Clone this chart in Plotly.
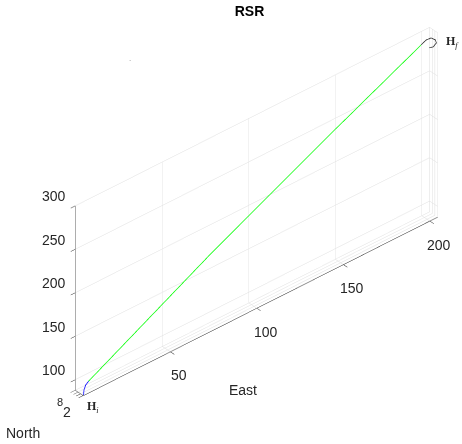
import plotly.graph_objects as go

# ---- data ----
# blue start arc (from H_i)
start_east = [0.0, 0.2, 1.2, 2.9]
start_north = [2.1, 2.1, 2.1, 2.1]
start_alt = [88.0, 93.7, 98.3, 101.0]

# green straight segment
mid_east = [2.9, 72.4, 142.5, 195.1]
mid_north = [2.1, 2.1, 2.1, 2.1]
mid_alt = [101.0, 175.6, 245.0, 295.2]

# black end arc (to H_f)
end_east = [195.1, 198.0, 200.9, 203.3, 203.9, 202.1, 199.8]
end_north = [2.1, 2.1, 2.1, 2.1, 2.1, 2.1, 2.1]
end_alt = [295.2, 297.9, 297.4, 292.7, 288.7, 285.9, 287.1]

east_range = [-0.3, 204.5]
north_range = [1.9, 8.0]
alt_range = [87.7, 300]
east_ticks = [50, 100, 150, 200]
north_ticks = [2, 4, 6, 8]
north_labels = [8, 2]
alt_ticks = [100, 150, 200, 250, 300]

fig = go.Figure()
fig.add_trace(go.Scatter3d(x=start_east, y=start_north, z=start_alt, mode="lines",
                           line=dict(color="#0000ff", width=1.5), showlegend=False, hoverinfo="skip"))
fig.add_trace(go.Scatter3d(x=mid_east, y=mid_north, z=mid_alt, mode="lines",
                           line=dict(color="#00ff00", width=1.5), showlegend=False, hoverinfo="skip"))
fig.add_trace(go.Scatter3d(x=end_east, y=end_north, z=end_alt, mode="lines",
                           line=dict(color="#262626", width=1.5), showlegend=False, hoverinfo="skip"))

axis_common = dict(
    showbackground=False,
    gridcolor="#dedede",
    gridwidth=1,
    showline=True,
    linecolor="#262626",
    linewidth=1,
    zeroline=False,
    showspikes=False,
    ticks="outside",
    ticklen=6,
    tickcolor="#262626",
    showticklabels=False,
    title=dict(text=""),
)

tick_font = dict(family="Liberation Sans, Arial", size=14, color="#262626")

scene_ann = []
# altitude tick labels (left of the vertical axis at East=min, North=max)
for v in alt_ticks:
    scene_ann.append(dict(x=east_range[0], y=north_range[1], z=v, text=str(v), showarrow=False,
                          xanchor="right", yanchor="middle", xshift=-7, yshift=10, font=tick_font))
# east tick labels (below the front-bottom edge)
for v in east_ticks:
    scene_ann.append(dict(x=v, y=north_range[0], z=alt_range[0], text=str(v), showarrow=False,
                          xanchor="center", yanchor="middle", xshift=9, yshift=-23, font=tick_font))
# north tick labels (overlapping at the short depth axis)
for v, sz, dx, dy in zip(north_labels, [11, 14], [-15, -16], [-11, -16]):
    scene_ann.append(dict(x=east_range[0], y=v, z=alt_range[0], text=str(v), showarrow=False,
                          xanchor="center", yanchor="middle", xshift=dx, yshift=dy,
                          font=dict(family="Liberation Sans, Arial", size=sz, color="#262626")))
scene_ann.append(dict(x=start_east[0], y=start_north[0], z=start_alt[0], text="<b>H</b><sub><i>i</i></sub>",
                      showarrow=False, xanchor="left", yanchor="middle", xshift=2, yshift=-11,
                      font=dict(family="Liberation Serif, DejaVu Serif", size=12, color="#262626")))
scene_ann.append(dict(x=end_east[4], y=end_north[4], z=end_alt[4], text="<b>H</b><sub><i>f</i></sub>",
                      showarrow=False, xanchor="left", yanchor="middle", xshift=8, yshift=1,
                      font=dict(family="Liberation Serif, DejaVu Serif", size=12, color="#262626")))

fig.update_layout(
    width=462, height=444,
    margin=dict(l=0, r=0, t=0, b=0),
    paper_bgcolor="white",
    title=dict(text="<b>RSR</b>", x=0.54, xanchor="center", y=0.985, yanchor="top",
               font=dict(family="Liberation Sans, Arial", size=14, color="#000000")),
    scene=dict(
        domain=dict(x=[0.11, 1.0], y=[0.046, 0.999]),
        xaxis=dict(range=east_range, tickvals=east_ticks, **axis_common),
        yaxis=dict(range=north_range, tickvals=north_ticks, **axis_common),
        zaxis=dict(range=alt_range, tickvals=alt_ticks, **axis_common),
        aspectmode="manual",
        aspectratio=dict(x=2.22, y=0.058, z=1.07),
        camera=dict(
            eye=dict(x=-1.20, y=-1.38, z=1.30),
            center=dict(x=0, y=0, z=0),
            up=dict(x=0, y=0, z=1),
            projection=dict(type="orthographic"),
        ),
        annotations=scene_ann,
    ),
    annotations=[
        dict(text="East", x=243 / 462, y=1 - 390 / 444, xref="paper", yref="paper",
             showarrow=False, xanchor="center", yanchor="middle",
             font=dict(family="Liberation Sans, Arial", size=14, color="#262626")),
        dict(text="North", x=4 / 462, y=1 - 433 / 444, xref="paper", yref="paper",
             showarrow=False, xanchor="left", yanchor="middle",
             font=dict(family="Liberation Sans, Arial", size=14, color="#262626")),
        dict(text=".", x=130 / 462, y=1 - 58 / 444, xref="paper", yref="paper",
             showarrow=False, xanchor="center", yanchor="middle",
             font=dict(family="Liberation Sans, Arial", size=8, color="#888888")),
    ],
)

fig.write_html("out.html")
